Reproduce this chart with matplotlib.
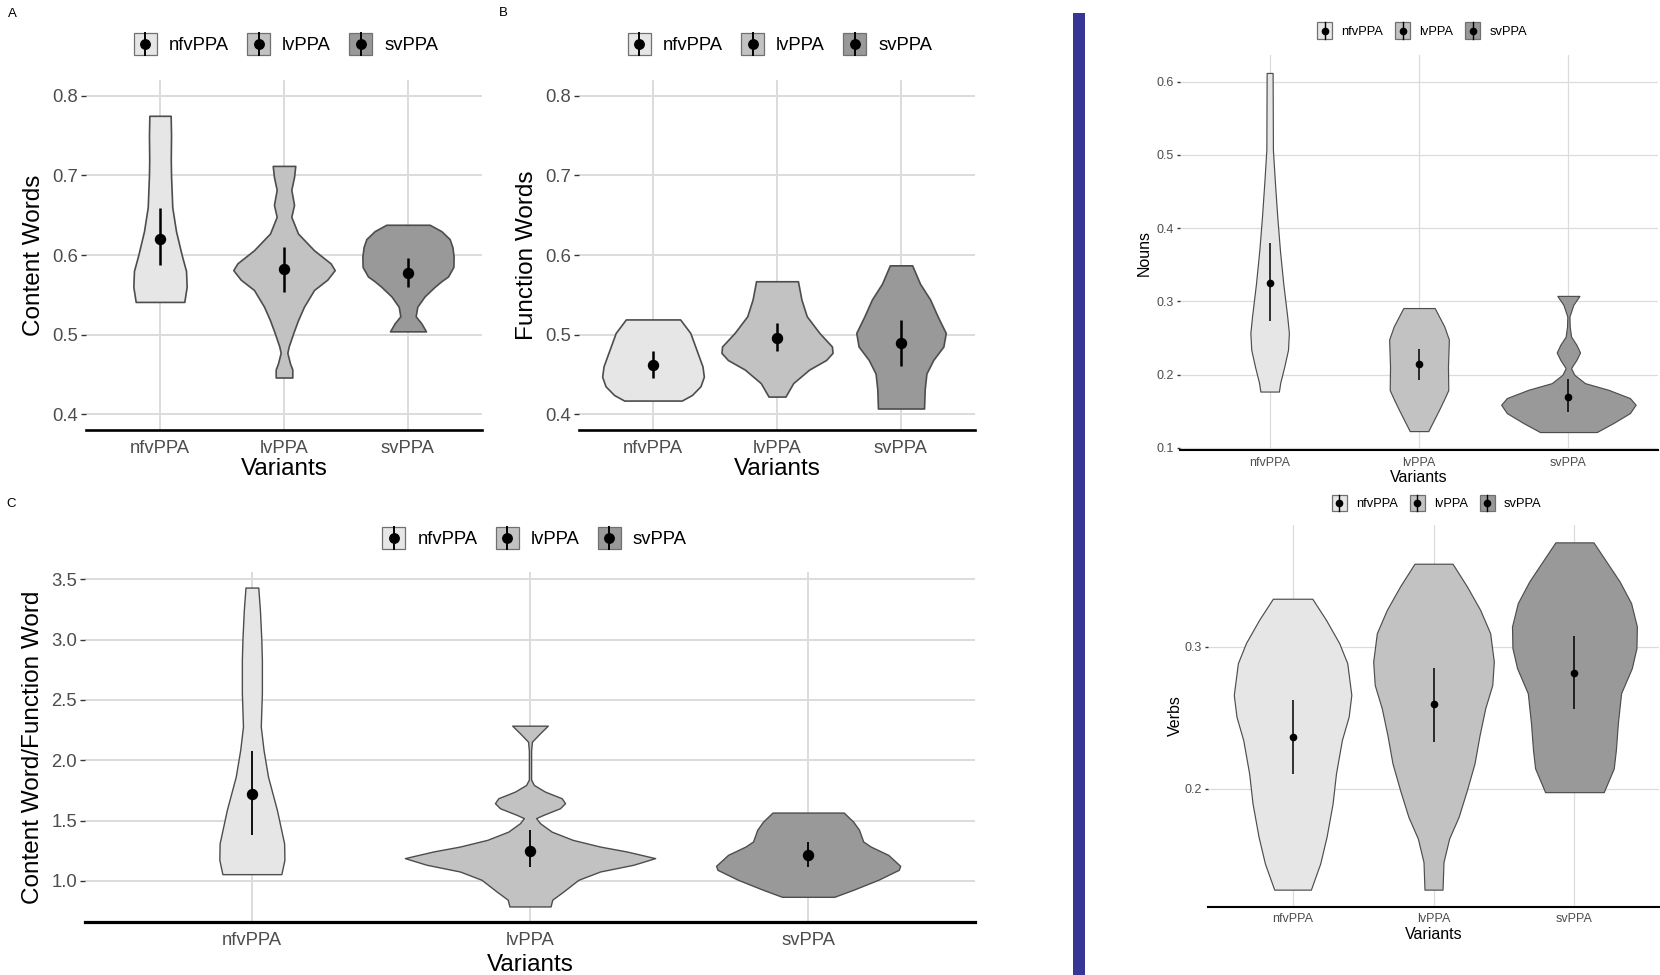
import numpy as np
import matplotlib
matplotlib.use("Agg")
import matplotlib.pyplot as plt
from matplotlib.patches import Patch, Rectangle
from matplotlib.lines import Line2D
from matplotlib.legend_handler import HandlerBase

plt.rcParams['font.family'] = ['Liberation Sans', 'DejaVu Sans']

# ---- data (violin outlines: y value, half-width in category units) ----
groups = ["nfvPPA", "lvPPA", "svPPA"]

# A: content words
content_y = [
    [0.775, 0.75, 0.72, 0.70, 0.66, 0.63, 0.60, 0.58, 0.56, 0.541],
    [0.712, 0.698, 0.682, 0.663, 0.648, 0.627, 0.606, 0.5895, 0.581, 0.569, 0.556,
     0.535, 0.518, 0.502, 0.485, 0.477, 0.464, 0.456, 0.446],
    [0.638, 0.630, 0.620, 0.610, 0.598, 0.585, 0.573, 0.567, 0.560, 0.548, 0.535,
     0.523, 0.514, 0.504],
]
content_w = [
    [0.086, 0.089, 0.087, 0.089, 0.099, 0.129, 0.175, 0.21, 0.215, 0.196],
    [0.091, 0.081, 0.059, 0.081, 0.059, 0.113, 0.242, 0.376, 0.409, 0.349, 0.242,
     0.161, 0.113, 0.075, 0.038, 0.027, 0.048, 0.067, 0.067],
    [0.175, 0.269, 0.336, 0.358, 0.368, 0.366, 0.323, 0.269, 0.215, 0.134, 0.075,
     0.062, 0.108, 0.145],
]
content_mean = [0.620, 0.583, 0.578]
content_lo = [0.587, 0.554, 0.560]
content_hi = [0.659, 0.610, 0.596]

# B: function words
function_y = [
    [0.519, 0.502, 0.481, 0.460, 0.447, 0.435, 0.424, 0.417],
    [0.567, 0.544, 0.523, 0.502, 0.485, 0.477, 0.468, 0.456, 0.439, 0.422],
    [0.587, 0.564, 0.544, 0.523, 0.502, 0.485, 0.468, 0.451, 0.431, 0.407],
]
function_w = [
    [0.219, 0.301, 0.35, 0.399, 0.41, 0.383, 0.314, 0.232],
    [0.169, 0.197, 0.24, 0.342, 0.443, 0.448, 0.396, 0.26, 0.131, 0.068],
    [0.09, 0.153, 0.235, 0.295, 0.361, 0.342, 0.26, 0.205, 0.191, 0.186],
]
function_mean = [0.462, 0.496, 0.490]
function_lo = [0.445, 0.479, 0.460]
function_hi = [0.479, 0.514, 0.518]

# C: content / function ratio
ratio_y = [
    [3.433, 3.245, 3.0, 2.83, 2.555, 2.28, 2.085, 1.864, 1.588, 1.31, 1.174, 1.055],
    [2.287, 2.224, 2.154, 2.08, 1.84, 1.795, 1.74, 1.685, 1.644, 1.602, 1.547, 1.52,
     1.478, 1.408, 1.34, 1.284, 1.243, 1.188, 1.133, 1.077, 1.008, 0.911, 0.843, 0.787],
    [1.566, 1.491, 1.423, 1.326, 1.284, 1.215, 1.124, 1.091, 1.008, 0.925, 0.867],
]
ratio_w = [
    [0.023, 0.029, 0.034, 0.036, 0.036, 0.032, 0.042, 0.058, 0.09, 0.116, 0.117, 0.106],
    [0.064, 0.036, 0.007, 0.004, 0.004, 0.014, 0.054, 0.114, 0.126, 0.108, 0.048, 0.022,
     0.036, 0.078, 0.153, 0.252, 0.348, 0.45, 0.372, 0.252, 0.174, 0.12, 0.08, 0.074],
    [0.128, 0.162, 0.183, 0.198, 0.225, 0.288, 0.331, 0.326, 0.252, 0.162, 0.094],
]
ratio_mean = [1.718, 1.251, 1.215]
ratio_lo = [1.380, 1.118, 1.113]
ratio_hi = [2.080, 1.420, 1.320]

# nouns
nouns_y = [
    [0.612, 0.507, 0.461, 0.416, 0.37, 0.325, 0.279, 0.257, 0.234, 0.211, 0.189, 0.177],
    [0.291, 0.266, 0.248, 0.211, 0.179, 0.166, 0.152, 0.123],
    [0.3076, 0.2954, 0.2794, 0.2658, 0.2521, 0.2408, 0.2303, 0.2203, 0.209, 0.1999,
     0.1885, 0.1794, 0.1681, 0.159, 0.1476, 0.134, 0.1217],
]
nouns_w = [
    [0.02, 0.022, 0.036, 0.051, 0.069, 0.091, 0.118, 0.129, 0.123, 0.098, 0.071, 0.062],
    [0.105, 0.169, 0.2, 0.194, 0.196, 0.167, 0.134, 0.062],
    [0.074, 0.033, 0.007, 0.009, 0.018, 0.054, 0.078, 0.054, 0.018, 0.04,
     0.111, 0.268, 0.412, 0.45, 0.412, 0.301, 0.19],
]
nouns_mean = [0.325, 0.2145, 0.1694]
nouns_lo = [0.273, 0.193, 0.149]
nouns_hi = [0.380, 0.235, 0.1944]

# verbs
verbs_y = [
    [0.3336, 0.3188, 0.3024, 0.2883, 0.266, 0.2507, 0.2343, 0.2108, 0.1897, 0.1662,
     0.1475, 0.1292],
    [0.3582, 0.3423, 0.3258, 0.3094, 0.2894, 0.273, 0.2566, 0.2378, 0.2179, 0.1991,
     0.1803, 0.1651, 0.1486, 0.1292],
    [0.3732, 0.3599, 0.3458, 0.3305, 0.3141, 0.2989, 0.2848, 0.2672, 0.246, 0.2273,
     0.2144, 0.1977],
]
verbs_w = [
    [0.14, 0.237, 0.331, 0.388, 0.417, 0.398, 0.35, 0.308, 0.284, 0.241, 0.196, 0.13],
    [0.135, 0.237, 0.331, 0.402, 0.428, 0.417, 0.367, 0.327, 0.291, 0.237, 0.178,
     0.111, 0.071, 0.064],
    [0.135, 0.225, 0.32, 0.402, 0.443, 0.44, 0.407, 0.331, 0.308, 0.294, 0.279, 0.208],
]
verbs_mean = [0.2366, 0.2594, 0.2817]
verbs_lo = [0.2104, 0.2327, 0.2559]
verbs_hi = [0.2625, 0.2848, 0.3075]

# ---- styling ----
W, H = 1660, 975
FILLS = ['#E6E6E6', '#C2C2C2', '#999999']
EDGE = '#4D4D4D'
GRID = '#DCDCDC'
TXT = '#4D4D4D'

BIG = dict(tick=13.3, title=17.5, legend=13.3, ms=7.2, bar_lw=1.8, violin_lw=1.2,
           grid_lw=1.4, axis_lw=1.9, ticklen=3.6, key_ms=6.8, key_lw=1.4,
           hl=1.25, hh=1.45, tp=0.65, cs=0.98)
MID = dict(BIG, bar_lw=1.3, violin_lw=1.0, axis_lw=2.3)
SMALL = dict(tick=9.0, title=11.5, legend=9.3, ms=4.5, bar_lw=1.1, violin_lw=0.85,
             grid_lw=0.9, axis_lw=1.5, ticklen=2.5, key_ms=4.5, key_lw=1.0,
             hl=1.16, hh=1.53, tp=0.7, cs=0.93)


class PointRangeKey(HandlerBase):
    """Legend key: filled box with a vertical line and a point, like ggplot."""

    def __init__(self, ms, lw):
        super().__init__()
        self.ms = ms
        self.lw = lw

    def create_artists(self, legend, orig_handle, xdescent, ydescent, width, height,
                       fontsize, trans):
        x0, y0 = -xdescent, -ydescent
        box = Rectangle((x0, y0), width, height, facecolor=orig_handle.get_facecolor(),
                        edgecolor='#707070', lw=0.9, transform=trans)
        cx = x0 + width / 2
        stem = Line2D([cx, cx], [y0, y0 + height], color='black', lw=self.lw,
                      transform=trans)
        dot = Line2D([cx], [y0 + height / 2], marker='o', ms=self.ms, color='black',
                     linestyle='none', transform=trans)
        return [box, stem, dot]


fig = plt.figure(figsize=(W / 100, H / 100), dpi=100)


def px_axes(left, top, right, bottom):
    return fig.add_axes([left / W, 1 - bottom / H, (right - left) / W, (bottom - top) / H])


def draw_panel(box, vy, vw, means, lo, hi, ylim, yticks, yfmt, ylabel, sty,
               ylabel_x, xlabel_base, tick_base, legend_xy):
    left, top, right, bottom = box
    ax = px_axes(left, top, right, bottom)
    xs = np.arange(1, len(groups) + 1)
    for i, x in enumerate(xs):
        y = np.array(vy[i])
        w = np.array(vw[i])
        ax.fill_betweenx(y, x - w, x + w, facecolor=FILLS[i], edgecolor=EDGE,
                         lw=sty['violin_lw'], zorder=2, joinstyle='round')
    ax.vlines(xs, lo, hi, color='black', lw=sty['bar_lw'], zorder=3)
    ax.plot(xs, means, 'o', color='black', ms=sty['ms'], zorder=4)

    ax.set_xlim(0.4, 3.6)
    ax.set_ylim(*ylim)
    ax.set_xticks(xs)
    ax.set_xticklabels(groups)
    ax.set_yticks(yticks)
    ax.set_yticklabels([yfmt % t for t in yticks])
    ax.grid(True, color=GRID, lw=sty['grid_lw'])
    ax.set_axisbelow(True)
    for s in ['top', 'right', 'left']:
        ax.spines[s].set_visible(False)
    ax.spines['bottom'].set_color('black')
    ax.spines['bottom'].set_linewidth(sty['axis_lw'])
    ax.spines['bottom'].set_zorder(5)

    xpad = (tick_base - bottom) * 0.72
    ax.tick_params(axis='x', length=0, pad=xpad, labelsize=sty['tick'], labelcolor=TXT)
    ax.tick_params(axis='y', length=sty['ticklen'], width=1.0, color='#333333', pad=2,
                   labelsize=sty['tick'], labelcolor=TXT)
    for lab in ax.get_xticklabels():
        lab.set_va('baseline')

    hpx = bottom - top
    wpx = right - left
    ax.set_xlabel('Variants', fontsize=sty['title'], color='black')
    ax.xaxis.label.set_va('baseline')
    ax.xaxis.set_label_coords(0.5, (bottom - xlabel_base) / hpx)
    ax.set_ylabel(ylabel, fontsize=sty['title'], color='black')
    ax.yaxis.label.set_va('center')
    ax.yaxis.set_label_coords((ylabel_x - left) / wpx, 0.5)

    handles = [Patch(facecolor=c) for c in FILLS]
    fig.legend(handles, groups, loc='center', ncol=3, frameon=False,
               bbox_to_anchor=(legend_xy[0] / W, 1 - legend_xy[1] / H),
               bbox_transform=fig.transFigure, fontsize=sty['legend'],
               handlelength=sty['hl'], handleheight=sty['hh'],
               handletextpad=sty['tp'], columnspacing=sty['cs'], borderpad=0,
               handler_map={Patch: PointRangeKey(sty['key_ms'], sty['key_lw'])})
    return ax


draw_panel((85.6, 80, 482.4, 430), content_y, content_w, content_mean, content_lo,
           content_hi, (0.38, 0.82), [0.4, 0.5, 0.6, 0.7, 0.8], '%.1f', 'Content Words',
           BIG, 34, 475, 453, (286, 44))
draw_panel((578.6, 80, 975.4, 430), function_y, function_w, function_mean, function_lo,
           function_hi, (0.38, 0.82), [0.4, 0.5, 0.6, 0.7, 0.8], '%.1f', 'Function Words',
           BIG, 527, 475, 453, (780, 44))
draw_panel((85, 572, 975, 922), ratio_y, ratio_w, ratio_mean, ratio_lo, ratio_hi,
           (0.658, 3.562), [1.0, 1.5, 2.0, 2.5, 3.0, 3.5], '%.1f',
           'Content Word/Function Word', MID, 33, 971, 945, (534.5, 538))
draw_panel((1180, 55, 1658, 450), nouns_y, nouns_w, nouns_mean, nouns_lo, nouns_hi,
           (0.0972, 0.6365), [0.1, 0.2, 0.3, 0.4, 0.5, 0.6], '%.1f', 'Nouns',
           SMALL, 1144.5, 481.5, 466, (1422, 30.5))
draw_panel((1208, 525, 1659, 907), verbs_y, verbs_w, verbs_mean, verbs_lo, verbs_hi,
           (0.117, 0.3854), [0.2, 0.3], '%.1f', 'Verbs',
           SMALL, 1175, 939, 921.7, (1436.5, 503))

# panel letters
for letter, (px, py) in zip('ABC', [(12, 14), (503, 13), (11, 504)]):
    fig.text(px / W, 1 - py / H, letter, fontsize=9.5, ha='center', va='center')

# blue divider bar
fig.add_artist(Rectangle((1073 / W, 0), 12 / W, 1 - 13 / H, transform=fig.transFigure,
                         facecolor='#363696', edgecolor='none'))

fig.savefig('out.png', dpi=100)
